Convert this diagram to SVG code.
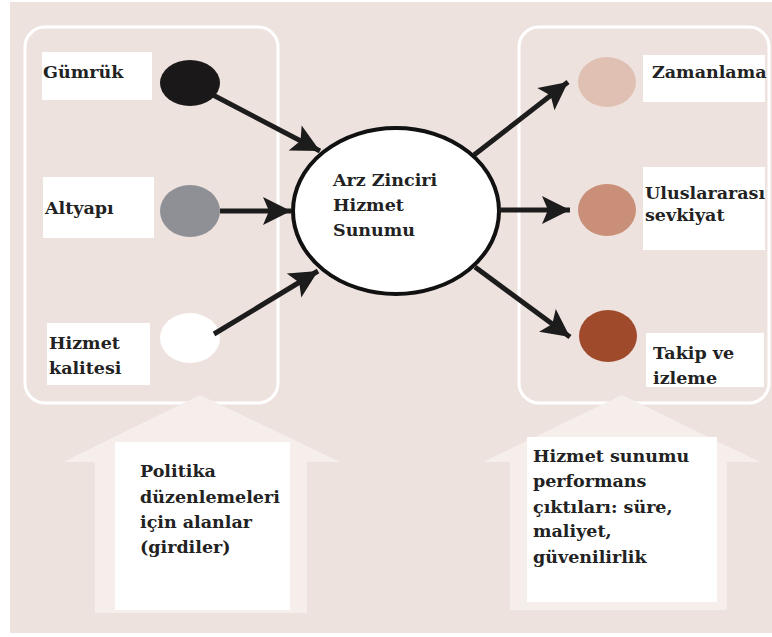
<svg xmlns="http://www.w3.org/2000/svg" width="772" height="637" viewBox="0 0 772 637">
<style>
.lbl{font-family:"DejaVu Serif","Liberation Serif",serif;font-weight:bold;font-size:17.5px;fill:#222}
.box{fill:#ffffff}
.grp{fill:none;stroke:#ffffff;stroke-width:3}
.con{stroke:#1c1c1c;stroke-width:5;fill:none}
.big{fill:#f5eeeb}
</style>
<defs>
<marker id="ah" markerUnits="userSpaceOnUse" markerWidth="32" markerHeight="32" viewBox="0 0 32 32" refX="30" refY="16" orient="auto">
<path d="M2,2 L30,16 L2,30 L8,16 Z" fill="#1c1c1c"/>
</marker>
</defs>
<rect x="0" y="0" width="772" height="637" fill="#ffffff"/>
<rect x="10" y="2" width="762" height="631" fill="#eee2de"/>
<g id="group-inputs"><rect class="grp" x="25" y="27" width="253" height="376" rx="20"/></g>
<g id="group-outputs"><rect class="grp" x="519" y="27" width="250" height="376" rx="20"/></g>

<g id="policy-arrow">
<path class="big" d="M200,395 L340,462 L307,462 L307,613 L95,613 L95,462 L63,462 Z"/>
<rect class="box" x="115" y="442" width="175" height="168"/>
<text class="lbl"><tspan x="140" y="477">Politika</tspan><tspan x="140" y="503">düzenlemeleri</tspan><tspan x="140" y="528">için alanlar</tspan><tspan x="140" y="553">(girdiler)</tspan></text>
</g>
<g id="performance-arrow">
<path class="big" d="M622,395 L760,462 L727,462 L727,610 L510,610 L510,462 L483,462 Z"/>
<rect class="box" x="527" y="437" width="190" height="165"/>
<text class="lbl"><tspan x="533" y="462">Hizmet sunumu</tspan><tspan x="533" y="487">performans</tspan><tspan x="533" y="513">çıktıları: süre,</tspan><tspan x="533" y="537">maliyet,</tspan><tspan x="533" y="563">güvenilirlik</tspan></text>
</g>

<g id="gumruk">
<rect class="box" x="42" y="52" width="110" height="48"/>
<text class="lbl" x="43" y="78">Gümrük</text>
<ellipse cx="190" cy="83" rx="30" ry="23" fill="#1a1818"/>
</g>
<g id="altyapi">
<rect class="box" x="43" y="177" width="111" height="61"/>
<text class="lbl" x="45" y="214">Altyapı</text>
<ellipse cx="190" cy="211" rx="30" ry="26" fill="#8f9095"/>
</g>
<g id="hizmet-kalitesi">
<rect class="box" x="47" y="323" width="103" height="62"/>
<text class="lbl"><tspan x="49" y="349">Hizmet</tspan><tspan x="49" y="374">kalitesi</tspan></text>
<ellipse cx="190" cy="338" rx="30" ry="25" fill="#ffffff"/>
</g>

<g id="center">
<ellipse cx="396" cy="211" rx="103" ry="83" fill="#ffffff" stroke="#111" stroke-width="4"/>
<text class="lbl"><tspan x="333" y="186">Arz Zinciri</tspan><tspan x="333" y="211">Hizmet</tspan><tspan x="333" y="236">Sunumu</tspan></text>
</g>

<g id="zamanlama">
<ellipse cx="607" cy="82" rx="29" ry="25" fill="#dfc0b2"/>
<rect class="box" x="643" y="55" width="122" height="47"/>
<text class="lbl" x="652" y="78">Zamanlama</text>
</g>
<g id="uluslararasi">
<ellipse cx="607" cy="210" rx="29" ry="26" fill="#c98f78"/>
<rect class="box" x="643" y="167" width="122" height="83"/>
<text class="lbl"><tspan x="645" y="199">Uluslararası</tspan><tspan x="645" y="221">sevkiyat</tspan></text>
</g>
<g id="takip">
<ellipse cx="608" cy="336" rx="29" ry="26" fill="#a04a2c"/>
<rect class="box" x="646" y="333" width="118" height="54"/>
<text class="lbl"><tspan x="653" y="359">Takip ve</tspan><tspan x="653" y="384">izleme</tspan></text>
</g>

<g id="connectors">
<line class="con" x1="213" y1="95" x2="320" y2="151" marker-end="url(#ah)"/>
<line class="con" x1="220" y1="211" x2="291" y2="211" marker-end="url(#ah)"/>
<line class="con" x1="214" y1="334" x2="318" y2="271" marker-end="url(#ah)"/>
<line class="con" x1="474" y1="155" x2="568" y2="82" marker-end="url(#ah)"/>
<line class="con" x1="499" y1="210" x2="570" y2="210" marker-end="url(#ah)"/>
<line class="con" x1="475" y1="267" x2="570" y2="337" marker-end="url(#ah)"/>
</g>
</svg>
